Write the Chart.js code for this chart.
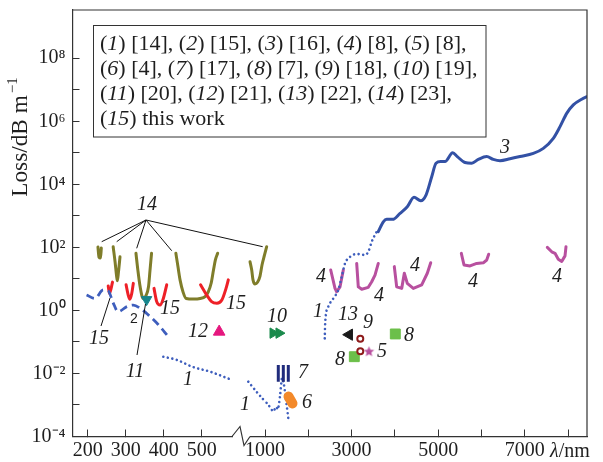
<!DOCTYPE html>
<html><head><meta charset="utf-8">
<script src="https://cdn.jsdelivr.net/npm/chart.js@4.4.1/dist/chart.umd.min.js"></script>
<style>html,body{margin:0;padding:0;background:#fff;}canvas{display:block;}</style>
</head><body>
<canvas id="c" width="603" height="462"></canvas>
<script>
// ---------- DATA (wavelength in nm, loss in dB/m) ----------
// (3) solid blue, right axis
const c3X = [3617,3733,3811,3950,4119,4287,4442,4597,4719,4851,4950,5059,5158,5336,5442,5620,5775,5927,6121,6274,6428,6659,6890,7198,7429,7660,7815,7969,8122,8316,8440];
const c3Y = [316,646,776,776,1200,1950,3890,3020,4570,17400,46800,52500,52500,100000,75900,49000,46800,61700,75900,61700,56200,64600,75900,95500,138000,288000,676000,1780000,3310000,5010000,6030000];
// (1) dotted blue, three pieces
const c1aX = [399,434,477,521,574];
const c1aY = [0.034,0.027,0.016,0.0115,0.0066];
const c1bX = [614,769,931,1069,1192,1254,1300,1346,1393,1439,1485,1538];
const c1bY = [0.0055,0.0030,0.00166,0.00105,0.00062,0.00087,0.00072,0.0019,0.0072,0.0043,0.00145,0.00038];
const c1cX = [2380,2390,2462,2578,2693,2772,2848,2964,3118,3310,3386,3465,3580];
const c1cY = [0.13,0.39,1.32,2.40,4.47,11.7,30.9,50.1,61.7,57.5,72.4,151,316];
// (2) dashed blue, left axis
const c2X = [197,219,241,254,267,280,303,320,338,360,386,412];
const c2Y = [3.09,2.40,4.47,4.17,1.74,0.91,1.32,1.48,1.17,0.71,0.35,0.148];
// (14) olive curves
const o1X = [227,229.7,233.7,235.8];            const o1Y = [102,49,46,95];
const o2X = [267,272,276,278,281,285];          const o2Y = [105,35,12.3,8.7,16.6,50];
const o3X = [327,332,338,346,353,360,364,368];  const o3Y = [65,19,5.6,2.4,2.9,5.6,19,65];
const o4X = [432,438,443,451,459,478,496,509,517,525,531,536,542];
const o4Y = [65,22.4,9.3,3.8,2.4,2.3,2.4,2.75,3.8,7.4,19,40,65];
const o5X = [654,693,723,769,827,885,931,989,1039]; const o5Y = [35,19,9.3,6.9,7.8,12.3,27.5,57.5,105];
// (15) red curves, left axis
const r1X = [254,257.4,265.3];                  const r1Y = [5.96,3.44,7.9];
const r2X = [301,306,311,316,320];              const r2Y = [6.5,3.3,2.24,3.5,7.2];
const r3X = [374.5,381.6,390.3,399,407.9];      const r3Y = [5.0,1.9,1.48,2.4,6.5];
const r4X = [497,513,526,540,553,564,570];      const r4Y = [6.5,3.1,1.9,1.7,2.14,5.0,9.3];
// (4) magenta curves, right axis
const m1X = [2518,2617,2656,2733,2809];                     const m1Y = [19.1,5.0,3.9,5.6,19.1];
const m2X = [3118,3155,3234,3386,3465,3541,3617];           const m2Y = [30.9,5.6,4.7,5.4,8.1,13.2,30.9];
const m3X = [3987,4042,4158,4218,4287,4426,4620,4749,4828]; const m3Y = [24.5,5.6,5.0,15.1,7.2,5.0,6.5,15.1,32.4];
const m4X = [5535,5597,5736,5890,6043,6121,6167];           const m4Y = [64.6,27.5,25.7,30.9,32.4,39.8,60.3];
const m5X = [7521,7623,7699,7775,7854,7930,7953];           const m5Y = [100,72.4,64.6,41.7,35.5,53.7,105];
// single markers
const p11X = [355];  const p11Y = [2.2];      // teal down triangle
const p12X = [546];  const p12Y = [0.21];     // pink triangle
const p10X = [1185,1323]; const p10Y = [0.19,0.19]; // green right triangles
const p13X = [2945]; const p13Y = [0.17];     // black left triangle
const p9X = [3201,3201]; const p9Y = [0.127,0.0508]; // open circles
const p5X = [3402];  const p5Y = [0.049];     // star
const p8X = [3063,4010]; const p8Y = [0.034,0.179]; // green squares
const p6X = [1543,1635]; const p6Y = [0.00186,0.00112]; // orange blob
const p7X = [1307,1423,1538]; const p7Lo = [0.0055,0.0055,0.0055]; const p7Hi = [0.0186,0.0186,0.0186]; // bars
// ticks
const xLeftTicks = [200,300,400,500];
const xRightTicks = [1000,2000,3000,4000,5000,6000,7000,8000];
const xRightLabeled = [1000,3000,5000,7000];
const yTickExp = [-4,-3,-2,-1,0,1,2,3,4,5,6,7,8];
const yLabelExp = [-4,-2,0,2,4,6,8];

// ---------- helpers ----------
const FONT = "'Liberation Serif','Times New Roman',serif";
const TXT = '#1e1e1e';
const SUP = {'-':'\u207B','0':'\u2070','1':'\u00B9','2':'\u00B2','3':'\u00B3','4':'\u2074','5':'\u2075','6':'\u2076','7':'\u2077','8':'\u2078','9':'\u2079'};
function pts(xs, ys){ return xs.map((x,i)=>({x:x, y:ys[i]})); }
function lineDS(xs, ys, axis, color, extra){
  return Object.assign({data: pts(xs,ys), xAxisID: axis, yAxisID: 'y', borderColor: color, backgroundColor: color,
    borderWidth: 3, pointRadius: 0, pointHoverRadius: 0, fill: false, tension: 0.4, cubicInterpolationMode: 'monotone',
    borderCapStyle: 'round', borderJoinStyle: 'round'}, extra || {});
}
function markDS(xs, ys, axis, style, color, r, extra){
  return Object.assign({data: pts(xs,ys), xAxisID: axis, yAxisID: 'y', showLine: false, pointStyle: style,
    pointRadius: r, pointHoverRadius: r, pointBackgroundColor: color, pointBorderColor: color, pointBorderWidth: 1,
    borderColor: color, backgroundColor: color}, extra || {});
}
function starCanvas(color, R){
  const c = document.createElement('canvas'); const s = Math.ceil(R*2+2); c.width = c.height = s;
  const g = c.getContext('2d'); g.fillStyle = color; g.beginPath();
  for (let i=0;i<10;i++){ const r = i%2 ? R*0.45 : R; const a = -Math.PI/2 + i*Math.PI/5; g.lineTo(s/2 + r*Math.cos(a), s/2 + r*Math.sin(a)); }
  g.closePath(); g.fill(); return c;
}
function barsData(xs, lo, hi){ const d=[]; xs.forEach((x,i)=>{ d.push({x:x,y:lo[i]},{x:x,y:hi[i]},{x:x,y:null}); }); return d; }

const BLUE='#3351a5', BLUED='#3e5ebd', OLIVE='#7f7d2a', RED='#ee2027', MAG='#b8509f';

const datasets = [
  markDS(p11X,p11Y,'xL','triangle','#16868c',6,{pointRotation:180}),
  markDS(p12X,p12Y,'xL','triangle','#e5177e',6.7),
  markDS(p10X,p10Y,'xR','triangle','#1b8a4c',6,{pointRotation:90}),
  markDS(p13X,p13Y,'xR','triangle','#1a1a1a',6.5,{pointRotation:-90}),
  markDS(p9X,p9Y,'xR','circle','#8e1b1b',3,{pointBackgroundColor:'#ffffff',pointBorderWidth:2}),
  markDS(p5X,p5Y,'xR',starCanvas(MAG,5.5),MAG,6),
  markDS(p8X,p8Y,'xR','rect','#6cbf4a',7),
  lineDS(p6X,p6Y,'xR','#f3892a',{borderWidth:10,tension:0,cubicInterpolationMode:'default'}),
  {data: barsData(p7X,p7Lo,p7Hi), xAxisID:'xR', yAxisID:'y', borderColor:'#202c7c', borderWidth:3, pointRadius:0, tension:0, spanGaps:false, borderCapStyle:'butt'},
  lineDS(c3X,c3Y,'xR',BLUE,{tension:0.35}),
  lineDS(c1aX,c1aY,'xL',BLUED,{borderWidth:2.6,borderDash:[0.01,4.6]}),
  lineDS(c1bX,c1bY,'xR',BLUED,{borderWidth:2.6,borderDash:[0.01,4.6],tension:0.2,cubicInterpolationMode:'default'}),
  lineDS(c1cX,c1cY,'xR',BLUED,{borderWidth:2.6,borderDash:[0.01,4.6]}),
  lineDS(c2X,c2Y,'xL',BLUED,{borderWidth:2.8,borderDash:[8,5],borderCapStyle:'butt'}),
  lineDS(r1X,r1Y,'xL',RED), lineDS(r2X,r2Y,'xL',RED), lineDS(r3X,r3Y,'xL',RED), lineDS(r4X,r4Y,'xL',RED),
  lineDS(o1X,o1Y,'xL',OLIVE), lineDS(o2X,o2Y,'xL',OLIVE), lineDS(o3X,o3Y,'xL',OLIVE), lineDS(o4X,o4Y,'xL',OLIVE),
  lineDS(o5X,o5Y,'xR',OLIVE),
  lineDS(m1X,m1Y,'xR',MAG,{tension:0,cubicInterpolationMode:'default'}),
  lineDS(m2X,m2Y,'xR',MAG,{tension:0,cubicInterpolationMode:'default'}),
  lineDS(m3X,m3Y,'xR',MAG,{tension:0,cubicInterpolationMode:'default'}),
  lineDS(m4X,m4Y,'xR',MAG,{tension:0,cubicInterpolationMode:'default'}),
  lineDS(m5X,m5Y,'xR',MAG,{tension:0,cubicInterpolationMode:'default'})
];

const gridOpt = {drawOnChartArea:false, drawTicks:true, tickLength:-7, color:'#333', lineWidth:1};
const borderOpt = {display:true, color:'#333', width:1.2};
const tickFont = {family: FONT, size: 20};
function noPad(s){ s.paddingTop = 0; s.paddingBottom = 0; s.paddingLeft = 0; s.paddingRight = 0; }

// ---------- decorations plugin ----------
function richParts(str){
  const re = /\((\d+)\)/g; let last = 0, m; const parts = [];
  while ((m = re.exec(str))){ parts.push([str.slice(last, m.index+1), false]); parts.push([m[1], true]); last = m.index + 1 + m[1].length; }
  parts.push([str.slice(last), false]); return parts;
}
function drawRich(ctx, str, x, y, size, draw){
  let cx = x;
  for (const [t, it] of richParts(str)){
    ctx.font = (it ? 'italic ' : '') + size + 'px ' + FONT;
    if (draw) ctx.fillText(t, cx, y);
    cx += ctx.measureText(t).width;
  }
  return cx - x;
}
const legendLines = ['(1) [14], (2) [15], (3) [16], (4) [8], (5) [8],','(6) [4], (7) [17], (8) [7], (9) [18], (10) [19],','(11) [20], (12) [21], (13) [22], (14) [23],','(15) this work'];
const notes = [['14',147,205],['15',99,339],['11',135,372],['15',170,309],['15',236,304],['12',198,332],['10',277,317],
  ['1',188,380],['1',245,405],['7',303,373],['6',307,403],['1',318,312],['13',348,315],['9',368,323],['8',409,336],
  ['5',382,352],['8',340,360],['4',321,277],['4',379,296],['4',415,266],['4',473,282],['4',557,277],['3',505,148]];
const leaders = [[146,220,101.7,241.7],[146,220,116.7,241.7],[146,220,136.7,248.3],[146,220,171.7,250.7],[146,220,262.7,246.7],
  [101,326,110,298],[137,355,145.5,304]];

const deco = {
  id: 'deco',
  afterDraw(chart){
    const ctx = chart.ctx, a = chart.chartArea;
    ctx.save();
    ctx.strokeStyle = '#333'; ctx.lineWidth = 1.2;
    ctx.beginPath(); ctx.moveTo(a.left, a.top); ctx.lineTo(a.right, a.top); ctx.lineTo(a.right, a.bottom); ctx.stroke();
    // axis break
    const B = chart.scales.xL.right, yb = a.bottom;
    ctx.fillStyle = '#fff'; ctx.fillRect(B-8, yb-3, 17, 6);
    ctx.beginPath(); ctx.moveTo(B-9, yb); ctx.lineTo(B-1, yb-10); ctx.lineTo(B+3, yb+9); ctx.lineTo(B+9, yb); ctx.stroke();
    // y title
    ctx.fillStyle = TXT;
    ctx.save(); ctx.translate(27, 137); ctx.rotate(-Math.PI/2);
    let fs = 20; ctx.font = fs+'px '+FONT; let w1 = ctx.measureText('Loss/dB m').width;
    ctx.font = Math.round(fs*0.65)+'px '+FONT; let w2 = ctx.measureText('\u22121').width;
    fs = Math.max(18, Math.min(24, fs * 120/(w1+w2+2)));
    ctx.font = fs+'px '+FONT; w1 = ctx.measureText('Loss/dB m').width;
    ctx.font = Math.round(fs*0.65)+'px '+FONT; w2 = ctx.measureText('\u22121').width;
    const sx = -(w1+w2+2)/2;
    ctx.textBaseline = 'alphabetic'; ctx.textAlign = 'left';
    ctx.font = fs+'px '+FONT; ctx.fillText('Loss/dB m', sx, 0);
    ctx.font = Math.round(fs*0.65)+'px '+FONT; ctx.fillText('\u22121', sx+w1+2, -fs*0.42);
    ctx.restore();
    // x title
    ctx.textBaseline = 'alphabetic'; ctx.textAlign = 'left';
    ctx.font = 'italic 20px '+FONT; ctx.fillText('\u03BB', 550, 457);
    const lw = ctx.measureText('\u03BB').width;
    ctx.font = '20px '+FONT; ctx.fillText('/nm', 550+lw, 457);
    // legend box
    ctx.fillStyle = '#fff'; ctx.fillRect(93.5,25.5,392.5,111.5);
    ctx.strokeStyle = '#333'; ctx.lineWidth = 1; ctx.strokeRect(93.5,25.5,392.5,111.5);
    ctx.fillStyle = TXT;
    const w20 = drawRich(ctx, legendLines[1], 0, 0, 20, false);
    const ls = Math.max(17, Math.min(22, 20*380/w20));
    legendLines.forEach((s,i)=> drawRich(ctx, s, 100, 50 + i*25, ls, true));
    // annotations
    ctx.strokeStyle = '#111'; ctx.lineWidth = 1;
    leaders.forEach(l=>{ ctx.beginPath(); ctx.moveTo(l[0],l[1]); ctx.lineTo(l[2],l[3]); ctx.stroke(); });
    ctx.textAlign = 'center'; ctx.textBaseline = 'middle';
    ctx.font = 'italic 20px '+FONT;
    notes.forEach(n=> ctx.fillText(n[0], n[1], n[2]));
    ctx.font = '14px "Liberation Sans",Arial,sans-serif';
    ctx.fillText('2', 134, 319);
    ctx.restore();
  }
};

new Chart(document.getElementById('c'), {
  type: 'line',
  data: { datasets: datasets },
  options: {
    responsive: false, devicePixelRatio: 1, animation: false, events: [],
    layout: { padding: {left: 0, top: 10, right: 16, bottom: 0} },
    plugins: { legend: {display:false}, tooltip: {enabled:false} },
    scales: {
      xL: { type:'linear', position:'bottom', stack:'xs', stackWeight:168.5, min:160, max:603.4,
        afterBuildTicks: s => { s.ticks = xLeftTicks.map(v=>({value:v})); },
        afterFit: s => { s.height = 25.5; noPad(s); },
        ticks: { font: tickFont, color: TXT, padding: 9, autoSkip:false, maxRotation:0, minRotation:0, callback: v => String(v) },
        grid: gridOpt, border: borderOpt },
      xR: { type:'linear', position:'bottom', stack:'xs', stackWeight:346, min:445.6, max:8438,
        afterBuildTicks: s => { s.ticks = xRightTicks.map(v=>({value:v})); },
        afterFit: s => { s.height = 25.5; noPad(s); },
        ticks: { font: tickFont, color: TXT, padding: 9, autoSkip:false, maxRotation:0, minRotation:0,
          callback: v => xRightLabeled.includes(v) ? String(v) : '' },
        grid: gridOpt, border: borderOpt },
      y: { type:'logarithmic', position:'left', min:1e-4, max:Math.pow(10,9.53),
        afterBuildTicks: s => { s.ticks = yTickExp.map(e=>({value:Math.pow(10,e)})); },
        afterFit: s => { s.width = 72.5; noPad(s); },
        ticks: { font: tickFont, color: TXT, padding: 14, autoSkip:false,
          callback: v => { const e = Math.round(Math.log10(v)); return yLabelExp.includes(e) ? '10' + String(e).split('').map(ch=>SUP[ch]).join('') : ''; } },
        grid: gridOpt, border: borderOpt }
    }
  },
  plugins: [deco]
});
</script>
</body></html>
